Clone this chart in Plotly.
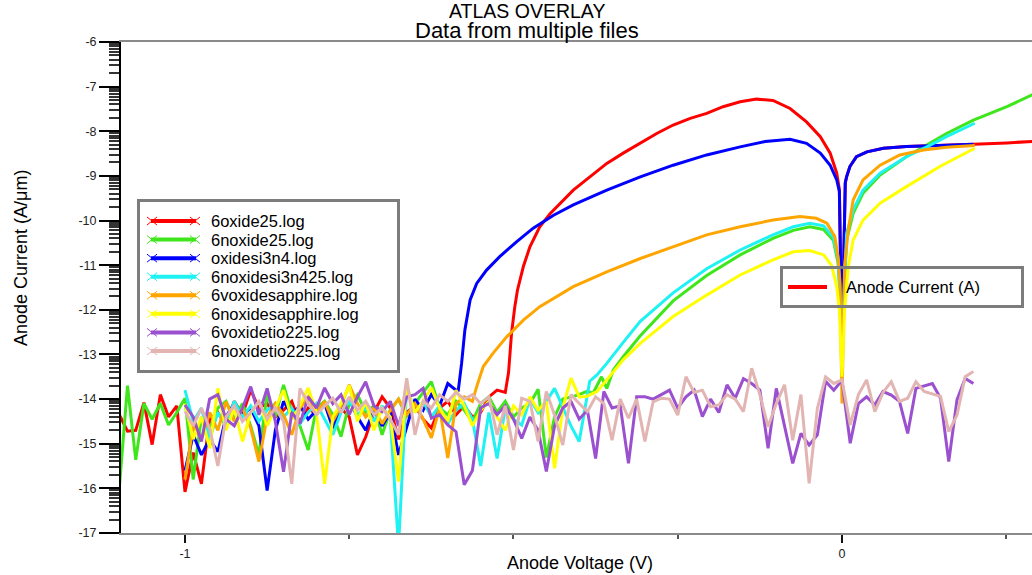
import math
import plotly.graph_objects as go

# ---------------------------------------------------------------------------
# ATLAS log overlay: anode current (log10 A/um) versus anode voltage
# ---------------------------------------------------------------------------

names = ["6oxide25.log", "6noxide25.log", "oxidesi3n4.log", "6noxidesi3n425.log",
         "6voxidesapphire.log", "6noxidesapphire.log", "6voxidetio225.log",
         "6noxidetio225.log"]
colors = ["#ff0000", "#3fe61c", "#0000ff", "#1ff2f2",
          "#ffa500", "#ffff00", "#9b50cf", "#e2b5b3"]

# voltage step of the low-bias sweep points (noise floor region)
SWEEP_STEP = 0.0125

# --- 6oxide25.log -----------------------------------------------------------
red_start = -1.1
red_noise = [-14.35, -14.72, -14.70, -14.08, -15.02, -13.90, -14.40, -14.15, -16.08, -15.20,
             -15.90, -14.45, -14.30, -14.60, -14.05, -14.35, -13.80, -14.20, -14.10, -14.40,
             -14.25, -14.05, -14.55, -14.20, -14.35, -14.10, -14.45, -14.20, -14.40, -15.25,
             -14.85, -14.30, -13.95, -14.20, -14.90, -14.30, -14.15, -14.45, -14.65, -14.20,
             -14.05, -14.35, -14.15, -14.40, -14.30, -13.95, -13.80, -13.85]
red_v = [-0.5075, -0.505, -0.503, -0.498, -0.494, -0.485, -0.475, -0.460, -0.444, -0.409,
         -0.384, -0.358, -0.333, -0.307, -0.282, -0.257, -0.231, -0.206, -0.181, -0.155,
         -0.130, -0.105, -0.079, -0.054, -0.033, -0.018, -0.008, -0.004, 0.0, 0.005,
         0.007, 0.012, 0.022, 0.038, 0.063, 0.098, 0.149, 0.200, 0.251, 0.300]
red_i = [-13.40, -12.97, -12.53, -11.93, -11.56, -11.03, -10.59, -10.14, -9.84, -9.32,
         -9.02, -8.72, -8.49, -8.27, -8.05, -7.86, -7.71, -7.60, -7.45, -7.34,
         -7.28, -7.31, -7.49, -7.79, -8.12, -8.49, -8.94, -9.30, -12.90, -9.15,
         -9.02, -8.79, -8.57, -8.46, -8.38, -8.34, -8.32, -8.29, -8.26, -8.22]

# --- 6noxide25.log ----------------------------------------------------------
green_start = -1.1125
green_noise = [-15.20, -16.00, -13.70, -15.36, -14.10, -14.45, -14.10, -14.58, -14.30, -13.98,
               -15.80, -14.40, -14.70, -14.20, -14.05, -14.45, -14.10, -14.60, -15.25, -13.90,
               -14.40, -13.68, -14.30, -14.60, -15.14, -14.20, -14.05, -14.35, -14.84, -14.10,
               -13.90, -14.30, -14.15, -14.80, -14.25, -14.00, -14.40, -14.10, -13.85, -13.61,
               -14.20, -14.35, -14.05, -14.25, -14.51, -14.10, -13.95, -14.30, -14.05, -14.40,
               -14.20, -14.10, -13.78, -15.31, -14.40, -14.00, -13.95, -13.90, -13.82]
green_v = [-0.379, -0.366, -0.358, -0.348, -0.333, -0.307, -0.257, -0.206, -0.155, -0.105,
           -0.074, -0.049, -0.028, -0.013, -0.006, -0.003, 0.0, 0.004, 0.007, 0.017,
           0.032, 0.058, 0.098, 0.129, 0.159, 0.200, 0.251, 0.300]
green_i = [-13.87, -13.50, -13.76, -13.35, -13.05, -12.58, -11.80, -11.23, -10.77, -10.40,
           -10.22, -10.14, -10.20, -10.45, -10.95, -11.70, -12.60, -11.40, -10.44, -9.84,
           -9.39, -8.98, -8.57, -8.31, -8.05, -7.75, -7.45, -7.11]

# --- oxidesi3n4.log ---------------------------------------------------------
blue_start = -1.0
blue_noise = [-15.60, -14.80, -15.25, -14.90, -15.18, -14.40, -14.10, -14.35, -14.20, -14.60,
              -16.05, -14.70, -14.05, -14.35, -14.15, -14.45, -14.25, -14.10, -14.65, -14.20,
              -14.00, -14.40, -14.70, -14.25, -14.60, -14.30, -15.25, -14.60, -14.00, -14.25,
              -13.90, -14.15, -13.65, -13.80]
blue_v = [-0.584, -0.579, -0.574, -0.566, -0.556, -0.541, -0.521, -0.495, -0.470, -0.439,
          -0.409, -0.358, -0.307, -0.257, -0.206, -0.155, -0.117, -0.079, -0.054, -0.033,
          -0.018, -0.008, -0.004, 0.0, 0.005, 0.007, 0.012, 0.022, 0.038, 0.063,
          0.098, 0.149, 0.200]
blue_i = [-13.80, -13.20, -12.45, -11.78, -11.41, -11.11, -10.81, -10.47, -10.17, -9.88,
          -9.65, -9.32, -9.02, -8.76, -8.53, -8.35, -8.23, -8.18, -8.27, -8.49,
          -8.76, -9.09, -9.35, -12.85, -9.15, -9.02, -8.79, -8.57, -8.46, -8.38,
          -8.34, -8.32, -8.29]

# --- 6noxidesi3n425.log -----------------------------------------------------
cyan_start = -1.0
cyan_noise = [-13.80, -14.50, -14.20, -14.90, -14.30, -14.60, -14.05, -14.40, -14.15, -14.50,
              -14.25, -14.10, -14.40, -14.20, -14.55, -14.30, -14.10, -14.44, -14.80, -14.30,
              -14.05, -14.35, -14.20, -14.50, -14.15, -14.45, -17.30, -13.69, -14.30, -14.05,
              -14.40, -14.15, -14.55, -14.25, -14.10, -14.45, -15.50, -14.30, -15.33, -14.20,
              -14.45, -14.58, -14.00, -14.30, -14.05, -13.76, -14.20, -14.60, -14.95]
cyan_v = [-0.384, -0.373, -0.358, -0.333, -0.307, -0.257, -0.206, -0.155, -0.105, -0.074,
          -0.049, -0.028, -0.013, -0.006, -0.003, 0.0, 0.004, 0.007, 0.017, 0.032,
          0.058, 0.098, 0.129, 0.159, 0.202]
cyan_i = [-13.60, -13.46, -13.20, -12.73, -12.26, -11.62, -11.08, -10.66, -10.32, -10.14,
          -10.06, -10.12, -10.38, -10.85, -11.60, -12.70, -11.30, -10.29, -9.76, -9.32,
          -8.94, -8.57, -8.35, -8.12, -7.82]

# --- 6voxidesapphire.log ----------------------------------------------------
orange_start = -1.0
orange_noise = [-15.80, -14.60, -14.90, -14.30, -14.70, -14.06, -14.50, -14.20, -14.65, -15.40,
                -14.40, -14.10, -14.35, -14.80, -14.20, -13.95, -14.30, -14.05, -14.50, -14.15,
                -13.68, -14.10, -14.40, -14.20, -14.55, -14.25, -14.00, -14.35, -14.10, -14.45,
                -14.87, -14.20, -15.32, -14.10, -13.95, -14.05]
orange_v = [-0.556, -0.546, -0.531, -0.510, -0.485, -0.460, -0.409, -0.358, -0.307, -0.257,
            -0.206, -0.155, -0.105, -0.064, -0.039, -0.023, -0.011, -0.006, -0.003, 0.0,
            0.004, 0.0096, 0.017, 0.032, 0.058, 0.088, 0.124, 0.159, 0.202]
orange_i = [-13.72, -13.27, -12.97, -12.60, -12.23, -11.93, -11.48, -11.15, -10.85, -10.59,
            -10.32, -10.14, -9.99, -9.91, -9.95, -10.06, -10.36, -10.81, -11.40, -14.10,
            -11.00, -10.21, -9.54, -9.09, -8.76, -8.53, -8.42, -8.36, -8.32]

# --- 6noxidesapphire.log ----------------------------------------------------
yellow_start = -1.0
yellow_noise = [-14.10, -14.90, -14.40, -15.10, -13.76, -14.70, -14.20, -14.95, -14.30, -14.05,
                -14.60, -14.20, -13.80, -14.45, -14.15, -13.75, -14.30, -15.90, -14.40, -14.10,
                -13.70, -14.50, -14.05, -14.70, -14.20, -14.40, -15.85, -13.70, -14.30, -14.05,
                -13.75, -14.20, -14.50, -13.80, -14.15, -14.60, -14.25, -14.05, -14.40, -14.70,
                -14.15, -14.35, -13.95, -14.25, -14.05, -15.55, -14.20, -13.53, -13.95]
yellow_v = [-0.389, -0.373, -0.358, -0.333, -0.307, -0.257, -0.206, -0.155, -0.105, -0.074,
            -0.049, -0.028, -0.016, -0.008, -0.004, 0.0, 0.004, 0.0096, 0.017, 0.032,
            0.058, 0.098, 0.149, 0.202]
yellow_i = [-13.94, -13.83, -13.57, -13.12, -12.75, -12.15, -11.67, -11.22, -10.88, -10.70,
            -10.67, -10.77, -11.00, -11.48, -12.00, -13.50, -12.00, -11.03, -10.44, -9.99,
            -9.61, -9.24, -8.79, -8.38]

# --- 6voxidetio225.log (noise floor over the whole sweep) --------------------
purple_start = -1.0
purple_noise = [-14.13, -14.40, -14.95, -14.00, -13.90, -14.45, -14.60, -14.20, -13.72, -14.35,
                -13.76, -14.50, -15.63, -14.30, -14.55, -13.95, -14.20, -13.75, -14.10, -13.90,
                -14.35, -13.95, -13.61, -14.15, -14.28, -14.05, -14.60, -13.95, -13.90, -13.76,
                -14.43, -14.35, -14.58, -14.73, -15.92, -15.60, -14.20, -14.10, -14.35, -14.15,
                -14.45, -14.88, -14.40, -14.70, -15.62, -14.60, -14.20, -14.05, -14.45, -14.25,
                -15.33, -13.83, -14.20, -14.15, -15.44, -13.95, -13.95, -14.00, -13.90, -13.80,
                -14.20, -13.95, -13.80, -14.39, -14.00, -14.30, -13.68, -13.98, -13.54, -13.65,
                -13.80, -15.10, -13.76, -14.62, -15.44, -14.77, -15.03, -14.80, -13.60, -13.80,
                -13.58, -14.99, -14.10, -13.95, -14.13, -13.83, -13.91, -14.05, -14.77, -13.76,
                -13.70, -13.65, -13.98, -15.40, -14.02, -13.54, -13.65]

# --- 6noxidetio225.log (noise floor over the whole sweep) --------------------
pink_start = -1.0
pink_noise = [-14.28, -14.60, -14.20, -14.65, -15.50, -14.40, -14.15, -14.50, -14.30, -14.05,
              -14.45, -14.20, -14.50, -15.90, -13.76, -14.10, -14.35, -14.15, -13.98, -14.30,
              -13.95, -14.25, -14.05, -14.35, -14.20, -14.45, -14.80, -13.53, -14.80, -14.05,
              -14.20, -13.90, -14.05, -13.85, -14.00, -13.90, -14.10, -13.95, -14.80, -14.15,
              -15.14, -13.98, -14.05, -14.95, -13.83, -14.36, -15.03, -13.90, -14.10, -14.28,
              -13.95, -14.10, -14.92, -14.00, -14.43, -14.00, -14.95, -14.06, -13.98, -14.00,
              -14.36, -13.50, -13.85, -13.80, -14.17, -14.13, -13.90, -14.00, -14.28, -13.31,
              -13.90, -14.62, -14.10, -13.68, -14.92, -13.90, -15.89, -14.21, -13.50, -13.65,
              -13.57, -14.58, -13.90, -13.57, -14.28, -13.85, -13.61, -14.05, -13.98, -13.61,
              -13.83, -13.88, -13.94, -14.73, -14.36, -13.50, -13.38]

# y-axis major ticks (decades) and labels
y_ticks = list(range(-17, -5))
y_ticktext = [str(v) for v in y_ticks]
x_ticks = [-1, 0]
x_ticktext = ["-1", "0"]
x_minor_ticks = [-0.75, -0.5, -0.25, 0.25]


def series_xy(start, noise, smooth_v=(), smooth_i=()):
    """Noise-floor sweep points followed by the resolved IV points."""
    x = [round(start + SWEEP_STEP * k, 4) for k in range(len(noise))] + list(smooth_v)
    y = list(noise) + list(smooth_i)
    return x, y


series = [
    series_xy(red_start, red_noise, red_v, red_i),
    series_xy(green_start, green_noise, green_v, green_i),
    series_xy(blue_start, blue_noise, blue_v, blue_i),
    series_xy(cyan_start, cyan_noise, cyan_v, cyan_i),
    series_xy(orange_start, orange_noise, orange_v, orange_i),
    series_xy(yellow_start, yellow_noise, yellow_v, yellow_i),
    series_xy(purple_start, purple_noise),
    series_xy(pink_start, pink_noise),
]

fig = go.Figure()
for (xs, ys), name, color in zip(series, names, colors):
    fig.add_trace(go.Scatter(x=xs, y=ys, mode="lines", name=name,
                             line=dict(color=color, width=3), showlegend=False))

# ---------------------------------------------------------------------------
# layout geometry (pixels) and helpers to place legend boxes in paper space
W, H = 1032, 575
PL, PR, PT, PB = 121, 1032, 42, 533
FONT = "Liberation Sans, Arial, sans-serif"


def fx(px):
    return (px - PL) / (PR - PL)


def fy(py):
    return (PB - py) / (PB - PT)


shapes = []
annotations = []

# file legend
shapes.append(dict(type="rect", xref="paper", yref="paper", layer="above",
                   x0=fx(138.5), x1=fx(398.5), y0=fy(200.5), y1=fy(371.5),
                   line=dict(color="#7c7c7c", width=3), fillcolor="white"))
for i, (name, color) in enumerate(zip(names, colors)):
    yc = 221 + i * 18.57
    shapes.append(dict(type="line", xref="paper", yref="paper", layer="above",
                       x0=fx(151), x1=fx(196), y0=fy(yc), y1=fy(yc),
                       line=dict(color=color, width=4)))
    for cx in (152, 195):
        for d in (-1, 1):
            shapes.append(dict(type="line", xref="paper", yref="paper", layer="above",
                               x0=fx(cx - 5), x1=fx(cx + 5),
                               y0=fy(yc - 4 * d), y1=fy(yc + 4 * d),
                               line=dict(color=color, width=1)))
    annotations.append(dict(text=name, xref="paper", yref="paper", x=fx(209), y=fy(yc),
                            xanchor="left", yanchor="middle", showarrow=False,
                            font=dict(family=FONT, size=16.5, color="black")))

# quantity legend
shapes.append(dict(type="rect", xref="paper", yref="paper", layer="above",
                   x0=fx(781.5), x1=fx(1022.5), y0=fy(267.5), y1=fy(306.5),
                   line=dict(color="#7c7c7c", width=3), fillcolor="rgba(0,0,0,0)"))
shapes.append(dict(type="line", xref="paper", yref="paper", layer="above",
                   x0=fx(788), x1=fx(827), y0=fy(287), y1=fy(287),
                   line=dict(color="#ff0000", width=4)))
annotations.append(dict(text="Anode Current (A)", xref="paper", yref="paper",
                        x=fx(844), y=fy(287), xanchor="left", yanchor="middle",
                        showarrow=False, font=dict(family=FONT, size=16.5, color="black")))

# titles
annotations.append(dict(text="ATLAS OVERLAY", xref="paper", yref="paper",
                        x=fx(527), y=fy(11), xanchor="center", yanchor="middle",
                        showarrow=False, font=dict(family=FONT, size=19.5, color="black")))
annotations.append(dict(text="Data from multiple files", xref="paper", yref="paper",
                        x=fx(527), y=fy(30.5), xanchor="center", yanchor="middle",
                        showarrow=False, font=dict(family=FONT, size=22, color="black")))
annotations.append(dict(text="Anode Voltage (V)", xref="paper", yref="paper",
                        x=fx(580), y=fy(563), xanchor="center", yanchor="middle",
                        showarrow=False, font=dict(family=FONT, size=18, color="black")))
annotations.append(dict(text="Anode Current (A/μm)", xref="paper", yref="paper",
                        x=fx(21), y=fy(258), xanchor="center", yanchor="middle",
                        textangle=-90, showarrow=False,
                        font=dict(family=FONT, size=18, color="black")))

# logarithmic minor ticks inside each decade
y_minor = [n + math.log10(k) for n in range(-17, -6) for k in range(2, 10)]

fig.update_layout(
    width=W, height=H,
    margin=dict(l=PL, r=W - PR, t=PT, b=H - PB, pad=0),
    paper_bgcolor="white", plot_bgcolor="white",
    font=dict(family=FONT, color="black"),
    shapes=shapes, annotations=annotations,
    showlegend=False,
    xaxis=dict(range=[-1.0974, 0.2892], showgrid=False, zeroline=False,
               showline=True, linecolor="#8a8a8a", linewidth=2, mirror=True,
               ticks="outside", tickmode="array", tickvals=x_ticks, ticktext=x_ticktext,
               ticklen=8, tickwidth=2, tickcolor="#111",
               tickfont=dict(family=FONT, size=12.5, color="#222"),
               minor=dict(tickmode="array", tickvals=x_minor_ticks, ticks="outside",
                          ticklen=4, tickwidth=1.5, tickcolor="#555")),
    yaxis=dict(range=[-17, -6], showgrid=False, zeroline=False,
               showline=True, linecolor="black", linewidth=2,
               ticks="outside", tickmode="array", tickvals=y_ticks, ticktext=y_ticktext,
               ticklen=20, tickwidth=2, tickcolor="black",
               tickfont=dict(family=FONT, size=12.5, color="#222"),
               minor=dict(tickmode="array", tickvals=y_minor, ticks="outside",
                          ticklen=10, tickwidth=1.5, tickcolor="#333")),
)

fig.write_html("out.html")
